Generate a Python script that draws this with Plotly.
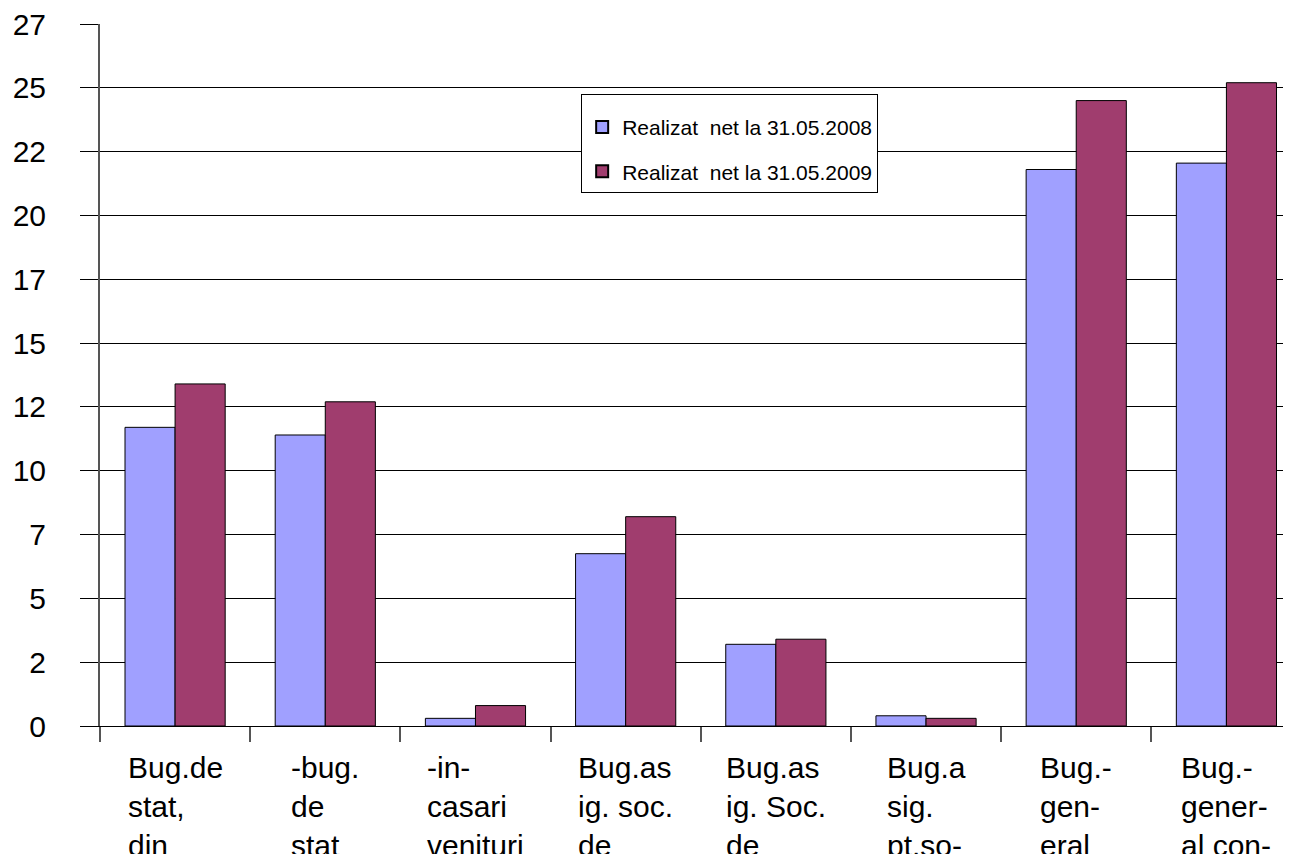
import plotly.graph_objects as go

categories = ["Bug.de stat, din", "-bug. de stat", "-in- casari venituri", "Bug.as ig. soc. de",
              "Bug.as ig. Soc. de", "Bug.a sig. pt.so-", "Bug.- gen- eral", "Bug.- gener- al con-"]
label_lines = [
    ["Bug.de", "stat,", "din"],
    ["-bug.", "de", "stat"],
    ["-in-", "casari", "venituri"],
    ["Bug.as", "ig. soc.", "de"],
    ["Bug.as", "ig. Soc.", "de"],
    ["Bug.a", "sig.", "pt.so-"],
    ["Bug.-", "gen-", "eral"],
    ["Bug.-", "gener-", "al con-"],
]
series_names = ["Realizat  net la 31.05.2008", "Realizat  net la 31.05.2009"]
values_2008 = [11.7, 11.4, 0.3, 6.75, 3.2, 0.4, 21.8, 22.05]
values_2009 = [13.4, 12.7, 0.8, 8.2, 3.4, 0.3, 24.5, 25.2]
tick_vals = [0, 2.5, 5, 7.5, 10, 12.5, 15, 17.5, 20, 22.5, 25, 27.5]
tick_text = ["0", "2", "5", "7", "10", "12", "15", "17", "20", "22", "25", "27"]

colors = ["#A0A0FF", "#A03D6E"]

fig = go.Figure()
for i, (name, vals, col) in enumerate(zip(series_names, [values_2008, values_2009], colors)):
    fig.add_trace(go.Bar(x=categories, y=vals, name=name, legendgroup="g%d" % i,
                         marker=dict(color=col, line=dict(color="#000000", width=1))))

annotations = []
for cat, lines in zip(categories, label_lines):
    annotations.append(dict(x=cat, xref="x", y=-0.033, yref="paper", yanchor="top",
                            xanchor="center", align="left", showarrow=False,
                            text="<br>".join(lines),
                            font=dict(family="Liberation Sans, Arial", size=30, color="#000000")))

fig.update_layout(
    width=1291, height=854, autosize=False,
    margin=dict(l=92, r=8, t=16, b=136, autoexpand=False),
    paper_bgcolor="white", plot_bgcolor="white",
    barmode="group", bargap=0.333, bargroupgap=0,
    showlegend=True,
    legend=dict(x=0.4040, y=0.900, xanchor="left", yanchor="top",
                bgcolor="white", bordercolor="#000000", borderwidth=1,
                font=dict(family="Liberation Sans, Arial", size=21, color="#000000"),
                title=dict(text=" ", font=dict(size=9)),
                tracegroupgap=14, itemsizing="constant"),
    annotations=annotations,
)
fig.update_xaxes(type="category", range=[-0.5, 7.43], showticklabels=False, automargin=False,
                 ticks="outside", tickson="boundaries", ticklen=15, tickcolor="#555555", tickwidth=2,
                 showline=True, linecolor="#000000", linewidth=1, showgrid=False)
fig.update_yaxes(range=[0, 27.5], tickvals=tick_vals, ticktext=tick_text, automargin=False,
                 ticks="outside", ticklen=18, tickcolor="#000000", tickwidth=1,
                 ticklabelstandoff=28, ticklabeloverflow="allow",
                 showgrid=True, gridcolor="#000000", gridwidth=1,
                 showline=True, linecolor="#555555", linewidth=2, zeroline=False,
                 tickfont=dict(family="Liberation Sans, Arial", size=30, color="#000000"))

fig.write_html("out.html")
